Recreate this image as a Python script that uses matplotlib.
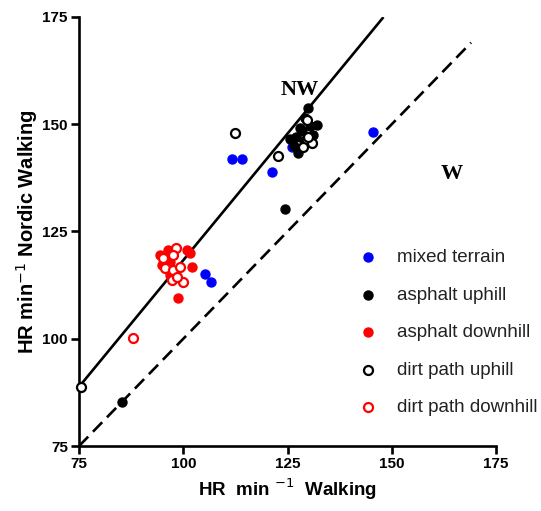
import matplotlib
matplotlib.use("Agg")
import matplotlib.pyplot as plt
import numpy as np

plt.rcParams.update({
    "font.family": ["Liberation Sans", "DejaVu Sans"],
    "font.size": 11,
})

# HR min-1: walking (x) vs Nordic walking (y)
mixed_x = [111.7, 114.1, 121.3, 126.1, 145.5, 105.2, 106.7]
mixed_y = [141.9, 141.9, 138.9, 144.7, 148.2, 115.1, 113.2]

asph_up_x = [85.3, 124.5, 129.9, 129.3, 128.0, 130.5, 132.0, 131.0, 127.0, 125.5,
             126.5, 127.5, 129.0, 128.5]
asph_up_y = [85.3, 130.2, 153.8, 151.5, 149.0, 149.5, 149.8, 147.5, 147.0, 146.5,
             145.0, 143.2, 146.0, 148.5]

asph_down_x = [98.7, 100.9, 102.1, 94.4, 96.3, 94.9, 96.8, 96.8, 101.6]
asph_down_y = [109.5, 120.7, 116.7, 119.5, 120.7, 117.2, 114.9, 117.9, 120.0]

dirt_up_x = [75.5, 112.3, 122.7, 129.7, 130.9, 130.0, 129.7, 128.7]
dirt_up_y = [88.8, 148.0, 142.6, 145.9, 145.6, 147.0, 151.0, 144.7]

dirt_down_x = [88.0, 98.3, 95.1, 97.5, 95.6, 97.5, 99.2, 99.9, 97.3, 98.5]
dirt_down_y = [100.2, 121.2, 118.8, 119.5, 116.5, 116.0, 116.7, 113.2, 113.7, 114.4]

# regression line (NW) and identity line (W)
fit_slope, fit_icpt, fit_xrange = 1.18, 0.3, [75, 148]
id_xrange = [75, 169]

ticks = [75, 100, 125, 150, 175]

fig = plt.figure(figsize=(5.41, 5.11), dpi=100)
ax = fig.add_axes([0.146, 0.127, 0.771, 0.840])

xf = np.array(fit_xrange)
ax.plot(xf, fit_slope * xf + fit_icpt, color="black", lw=1.9, solid_capstyle="butt")
xi = np.array(id_xrange)
ax.plot(xi, xi, color="black", lw=1.9, ls=(0, (5, 2.6)))

ms = 42
ax.scatter(mixed_x, mixed_y, s=ms, color="#0000ff", label="mixed terrain", zorder=3, clip_on=False)
ax.scatter(asph_up_x, asph_up_y, s=ms, color="black", label="asphalt uphill", zorder=3, clip_on=False)
ax.scatter(asph_down_x, asph_down_y, s=ms, color="#ff0000", label="asphalt downhill", zorder=3, clip_on=False)
ax.scatter(dirt_up_x, dirt_up_y, s=ms, facecolor="white", edgecolor="black", lw=1.6,
           label="dirt path uphill", zorder=4, clip_on=False)
ax.scatter(dirt_down_x, dirt_down_y, s=ms, facecolor="white", edgecolor="#ff0000", lw=1.6,
           label="dirt path downhill", zorder=4, clip_on=False)

ax.text(128, 158.0, "NW", family="Liberation Serif", fontweight="bold", fontsize=16,
        ha="center", va="center")
ax.text(164.4, 138.4, "W", family="Liberation Serif", fontweight="bold", fontsize=16,
        ha="center", va="center")

ax.set_xlim(75, 175)
ax.set_ylim(75, 175)
ax.set_xticks(ticks)
ax.set_yticks(ticks)
for lbl in ax.get_xticklabels() + ax.get_yticklabels():
    lbl.set_fontweight("bold")
    lbl.set_fontsize(11)
ax.tick_params(width=1.9, length=6, pad=2)
for side in ["top", "right"]:
    ax.spines[side].set_visible(False)
for side in ["left", "bottom"]:
    ax.spines[side].set_linewidth(1.9)

ax.set_xlabel(r"HR  min $^{-1}$  Walking", fontsize=13.5, fontweight="bold", labelpad=4)
ax.set_ylabel(r"HR min$^{-1}$ Nordic Walking", fontsize=14.5, fontweight="bold", labelpad=2)

leg = ax.legend(loc="upper left", bbox_to_anchor=(0.649, 0.476), frameon=False,
                fontsize=13.5, labelspacing=1.08, handlelength=1.2, handletextpad=0.9,
                borderaxespad=0, scatterpoints=1)
for t in leg.get_texts():
    t.set_color("#222222")

fig.savefig("out.png", dpi=100)
